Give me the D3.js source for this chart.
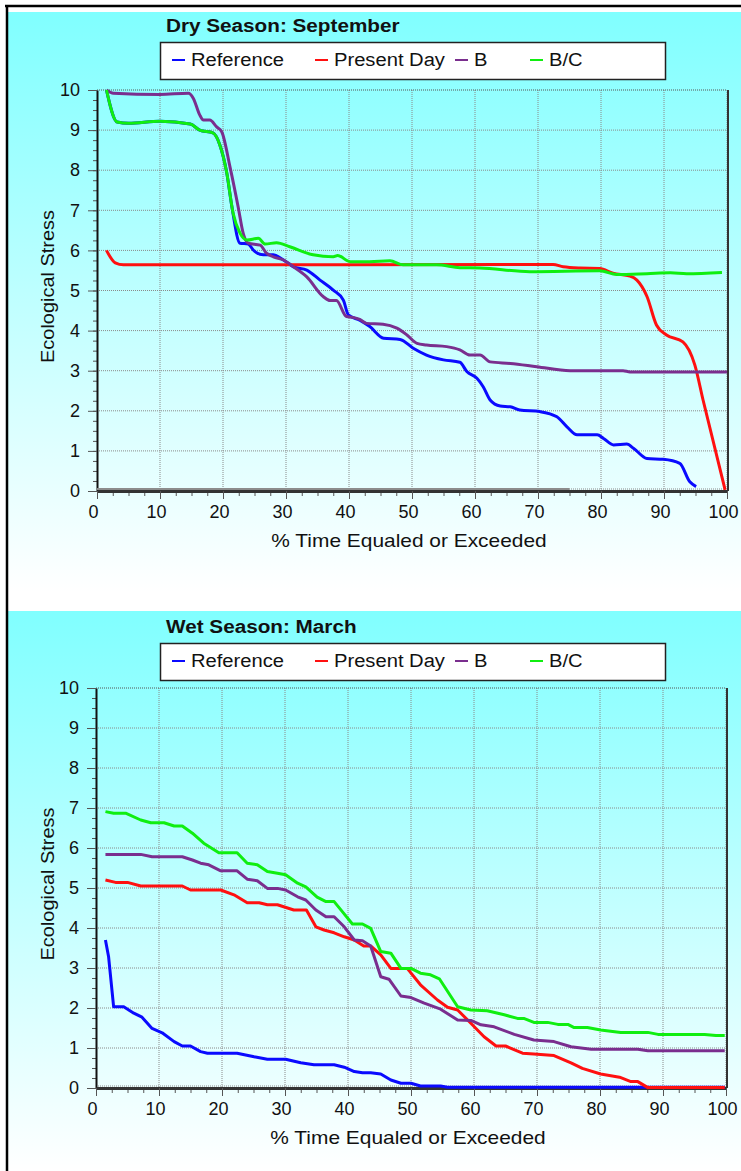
<!DOCTYPE html>
<html>
<head>
<meta charset="utf-8">
<script src="https://d3js.org/d3.v7.min.js"></script>
<style>
  body { margin: 0; background: #fff; }
  text { font-family: "Liberation Sans", Arial, sans-serif; fill: #111; }
</style>
</head>
<body>
<div id="my_dataviz"></div>
<script>

// series names and colours
var keys = ["Reference", "Present Day", "B", "B/C"];
var colors = ["#0a0aff", "#ff1010", "#7a2e8e", "#10ee10"];

// tick values
var xTicks = [0, 10, 20, 30, 40, 50, 60, 70, 80, 90, 100];
var yTicks = [0, 1, 2, 3, 4, 5, 6, 7, 8, 9, 10];

// Dry season (September) : [% time, stress]
var dryReference = [[1.5,10],[3.2,9.2],[5,9.17],[10,9.22],[14.8,9.15],[16.3,9.0],[18.4,8.93],[19.5,8.63],[20.6,7.93],[21.4,7.1],[22.7,6.18],[24,6.16],[24.8,6.01],[26.4,5.89],[28,5.89],[29.6,5.76],[31.2,5.59],[33.3,5.51],[35.4,5.26],[37.5,5.01],[39.1,4.76],[39.9,4.39],[41.7,4.26],[43.3,4.1],[45.5,3.81],[48.1,3.78],[50.2,3.56],[52.3,3.39],[55,3.27],[57.6,3.21],[58.7,2.98],[60.3,2.81],[61.3,2.6],[62.4,2.27],[64,2.12],[65.6,2.1],[67.1,2.02],[70.3,1.98],[73,1.85],[74.6,1.6],[76.2,1.4],[79.4,1.4],[80.4,1.31],[82,1.15],[84.1,1.17],[85.2,1.06],[87.3,0.81],[89.9,0.79],[92.5,0.69],[94.1,0.23],[95.1,0.11]];
var dryPresent = [[1.5,6.0],[2.9,5.69],[4.2,5.64],[72.4,5.65],[74,5.59],[76.7,5.56],[79.8,5.55],[81.9,5.43],[84.6,5.36],[85.7,5.26],[87.3,4.85],[88.8,4.14],[90.4,3.89],[93,3.72],[94.9,3.14],[96.2,2.27],[99.7,0.03]];
var dryB = [[1.5,10],[2.6,9.92],[10,9.89],[14.5,9.92],[15.3,9.79],[16.3,9.38],[16.9,9.25],[17.9,9.25],[19,9.08],[19.8,8.96],[21.1,8.09],[22.4,7.09],[23.2,6.43],[24,6.18],[25.9,6.13],[26.9,5.93],[28,5.84],[29.6,5.76],[31.2,5.59],[33.3,5.34],[35.9,4.85],[37,4.75],[38,4.75],[39.6,4.35],[40.6,4.33],[41.7,4.28],[42.8,4.18],[45.4,4.16],[47.6,4.06],[49.2,3.89],[50.8,3.68],[52.3,3.64],[55.5,3.6],[57.6,3.52],[59.2,3.39],[60.8,3.39],[62.4,3.22],[65.6,3.18],[69.8,3.1],[75.1,3.0],[83.5,3.0],[84.6,2.97],[100,2.97]];
var dryBC = [[1.5,10],[3.2,9.2],[5,9.17],[10,9.22],[14.8,9.15],[16.3,9.0],[18.4,8.93],[19.5,8.63],[20.6,7.93],[21.6,6.93],[22.7,6.43],[23.8,6.26],[25.6,6.3],[26.7,6.16],[28.5,6.19],[30.6,6.09],[34.3,5.89],[37.5,5.84],[38.2,5.87],[40.2,5.72],[43.3,5.72],[46.5,5.74],[48.6,5.64],[53.9,5.64],[57.6,5.57],[60.8,5.56],[68.7,5.47],[79.8,5.49],[82.5,5.4],[87.3,5.42],[91,5.44],[93.6,5.42],[99.2,5.45]];
var dryBase = [[0,0],[75,0]];

// Wet season (March)
var wetReference = [[1.5,3.7],[2,3.28],[2.8,2.03],[4.4,2.03],[6,1.87],[7.3,1.77],[8.9,1.49],[10.5,1.38],[12.4,1.16],[13.7,1.05],[15,1.05],[16.6,0.91],[17.7,0.87],[22.4,0.87],[25.1,0.78],[27.2,0.72],[30.1,0.72],[32.5,0.63],[34.6,0.58],[37.8,0.58],[39.4,0.52],[41,0.41],[42.3,0.38],[43.6,0.38],[45.2,0.35],[46.8,0.2],[48.4,0.12],[50,0.12],[51.5,0.05],[54.7,0.05],[55.8,0.02],[99.8,0.02]];
var wetPresent = [[1.5,5.2],[3.1,5.14],[5,5.14],[7.1,5.05],[13.7,5.05],[15,4.95],[19.8,4.95],[21.9,4.83],[24,4.63],[25.9,4.63],[27.2,4.58],[28.8,4.58],[31.4,4.45],[33.4,4.45],[34.9,4.03],[36.2,3.95],[37.8,3.88],[39.4,3.78],[41,3.7],[42.5,3.55],[43.6,3.55],[45.2,3.33],[46.8,2.99],[49.4,2.99],[51.5,2.58],[54.2,2.2],[55.8,2.02],[57.4,1.95],[59.5,1.62],[61.6,1.28],[63.5,1.05],[65,1.05],[67.7,0.87],[69.5,0.85],[72.7,0.81],[75.4,0.63],[77.2,0.49],[80.1,0.35],[83.1,0.27],[84.9,0.16],[86,0.16],[87.6,0.01],[99.8,0.01]];
var wetB = [[1.5,5.84],[7.1,5.84],[8.9,5.78],[13.7,5.78],[15.3,5.7],[16.6,5.62],[17.9,5.58],[19.8,5.43],[22.4,5.43],[24,5.22],[25.6,5.18],[27.2,4.99],[28.8,4.99],[30.1,4.95],[32,4.78],[33.3,4.7],[34.9,4.45],[36.5,4.28],[37.8,4.28],[39.4,4.03],[41,3.7],[42.3,3.68],[43.6,3.55],[45.2,2.78],[46.5,2.72],[48.4,2.3],[50,2.26],[52.1,2.12],[54.7,1.97],[57.4,1.7],[59.5,1.69],[61.1,1.58],[63.2,1.53],[66.4,1.34],[69.5,1.2],[72.7,1.16],[75.4,1.03],[78.6,0.97],[86,0.97],[87.6,0.93],[99.8,0.93]];
var wetBC = [[1.5,6.91],[2.8,6.87],[4.7,6.87],[7.1,6.7],[8.7,6.63],[10.8,6.63],[12.4,6.55],[13.7,6.55],[15.3,6.37],[17.1,6.12],[19.5,5.88],[22.4,5.88],[24,5.62],[25.6,5.58],[27.2,5.41],[28.8,5.37],[30.1,5.33],[32,5.12],[33.3,5.03],[35.1,4.77],[36.5,4.66],[37.8,4.66],[39.1,4.41],[40.7,4.1],[42.3,4.1],[43.6,3.99],[45.2,3.41],[46.8,3.37],[48.4,2.99],[50,2.99],[51.5,2.87],[53.1,2.83],[54.5,2.73],[57.4,2.03],[59.5,1.95],[62.1,1.93],[64.8,1.83],[66.9,1.74],[67.9,1.74],[69.5,1.64],[71.7,1.64],[73.3,1.59],[74.9,1.59],[75.9,1.51],[78,1.51],[80.1,1.45],[83.3,1.39],[87.6,1.39],[89.2,1.34],[96.6,1.34],[98.4,1.31],[99.8,1.31]];

var W = 741, H = 1171;

var svg = d3.select("#my_dataviz")
  .append("svg")
    .attr("width", W)
    .attr("height", H);

// panel gradient (cyan to white)
var grad = svg.append("defs").append("linearGradient")
    .attr("id", "panelGrad")
    .attr("x1", 0).attr("y1", 0).attr("x2", 0).attr("y2", 1);
grad.append("stop").attr("offset", "0%").attr("stop-color", "#80ffff");
grad.append("stop").attr("offset", "100%").attr("stop-color", "#ffffff");

// stretch a text horizontally (the original uses a wide font)
function widen(sel, k) {
  sel.each(function() {
    var w = this.getComputedTextLength();
    d3.select(this).attr("textLength", w * k).attr("lengthAdjust", "spacingAndGlyphs");
  });
}

function drawChart(cfg) {
  var g = svg.append("g");

  // background panel
  g.append("rect")
    .attr("x", 8).attr("y", cfg.panelTop)
    .attr("width", W - 8).attr("height", cfg.panelBottom - cfg.panelTop)
    .attr("fill", "url(#panelGrad)");

  var x = d3.scaleLinear().domain([0, 100]).range([cfg.left, cfg.right]);
  var y = d3.scaleLinear().domain([0, 10]).range([cfg.bottom, cfg.top]);

  // grid
  g.selectAll("vgrid")
    .data(xTicks.slice(1))
    .enter().append("line")
      .attr("x1", function(d){ return x(d); }).attr("x2", function(d){ return x(d); })
      .attr("y1", y(10)).attr("y2", y(0))
      .attr("stroke", "#8a8a8a").attr("stroke-width", 1)
      .attr("stroke-dasharray", "1,1");
  g.selectAll("hgrid")
    .data(yTicks)
    .enter().append("line")
      .attr("x1", x(0)).attr("x2", x(100))
      .attr("y1", function(d){ return y(d) - (d === 0 ? 2 : 0); })
      .attr("y2", function(d){ return y(d) - (d === 0 ? 2 : 0); })
      .attr("stroke", function(d){ return d === 10 ? "#555" : "#8a8a8a"; })
      .attr("stroke-width", 1)
      .attr("stroke-dasharray", "1,1");

  // y axis with minor ticks
  var yMinor = d3.range(0, 10.01, 0.25);
  g.append("g")
    .attr("transform", "translate(" + cfg.left + ",0)")
    .call(d3.axisLeft(y).tickValues(yMinor).tickSize(4).tickFormat(""))
    .call(function(a){ a.select(".domain").remove(); a.selectAll("line").attr("stroke", "#555"); });
  var yAx = g.append("g")
    .attr("transform", "translate(" + cfg.left + ",0)")
    .call(d3.axisLeft(y).tickValues(yTicks).tickSize(9).tickPadding(8).tickSizeOuter(0));
  yAx.select(".domain").attr("stroke", "#111").attr("stroke-width", 2);
  yAx.selectAll("line").attr("stroke", "#555");
  yAx.selectAll("text").style("font-size", "18px").style("font-family", "Liberation Sans, Arial, sans-serif").attr("fill", "#111");

  // x axis with minor ticks
  var xMinor = d3.range(0, 100.01, 2.5);
  g.append("g")
    .attr("transform", "translate(0," + cfg.bottom + ")")
    .call(d3.axisBottom(x).tickValues(xMinor).tickSize(5).tickFormat(""))
    .call(function(a){ a.select(".domain").remove(); a.selectAll("line").attr("stroke", "#555"); });
  var xAx = g.append("g")
    .attr("transform", "translate(0," + cfg.bottom + ")")
    .call(d3.axisBottom(x).tickValues(xTicks).tickSize(8).tickPadding(6).tickSizeOuter(0));
  xAx.select(".domain").attr("stroke", "#333").attr("stroke-width", 3);
  xAx.selectAll("line").attr("stroke", "#555");
  xAx.selectAll("text").style("font-size", "18px").style("font-family", "Liberation Sans, Arial, sans-serif")
    .attr("fill", "#111").attr("dx", "-4");

  // right frame
  g.append("line")
    .attr("x1", x(100) + 1).attr("x2", x(100) + 1)
    .attr("y1", y(10)).attr("y2", y(0))
    .attr("stroke", "#333").attr("stroke-width", 2);

  // optional grey baseline
  if (cfg.base) {
    g.append("path")
      .datum(cfg.base)
      .attr("fill", "none")
      .attr("stroke", "#8c8c8c")
      .attr("stroke-width", 2)
      .attr("d", d3.line().x(function(d){ return x(d[0]); }).y(function(d){ return y(d[1]) - 2; }));
  }

  // lines
  var line = d3.line()
    .curve(cfg.curve)
    .x(function(d){ return x(d[0]); })
    .y(function(d){ return y(d[1]); });
  g.selectAll("series")
    .data(cfg.series)
    .enter().append("path")
      .attr("fill", "none")
      .attr("stroke", function(d, i){ return colors[i]; })
      .attr("stroke-width", 3)
      .attr("stroke-linejoin", "round")
      .attr("d", line);

  // title
  g.append("text")
    .attr("x", 166).attr("y", cfg.titleY)
    .style("font-size", "18px").style("font-weight", "bold")
    .text(cfg.title)
    .call(widen, 1.15);

  // legend
  var ly = cfg.legendY;
  g.append("rect")
    .attr("x", 160.5).attr("y", ly + 0.5)
    .attr("width", 505).attr("height", 37)
    .attr("fill", "#fff").attr("stroke", "#222").attr("stroke-width", 1.5);
  var lx = [172, 315, 455, 530];
  g.selectAll("legline")
    .data(keys)
    .enter().append("line")
      .attr("x1", function(d, i){ return lx[i]; })
      .attr("x2", function(d, i){ return lx[i] + 13; })
      .attr("y1", ly + 18).attr("y2", ly + 18)
      .attr("stroke", function(d, i){ return colors[i]; })
      .attr("stroke-width", 2);
  g.selectAll("leglabel")
    .data(keys)
    .enter().append("text")
      .attr("x", function(d, i){ return lx[i] + 19; })
      .attr("y", ly + 24)
      .style("font-size", "18px")
      .text(function(d){ return d; })
      .call(widen, 1.12);

  // axis labels
  g.append("text")
    .attr("text-anchor", "middle")
    .attr("x", (cfg.left + cfg.right) / 2 - 3)
    .attr("y", cfg.bottom + 56)
    .style("font-size", "19px")
    .text("% Time Equaled or Exceeded")
    .call(widen, 1.1);
  g.append("text")
    .attr("text-anchor", "middle")
    .attr("transform", "translate(54," + ((cfg.top + cfg.bottom) / 2 - 4) + ") rotate(-90)")
    .style("font-size", "19px")
    .text("Ecological Stress")
    .call(widen, 1.05);
}

drawChart({
  panelTop: 12, panelBottom: 592,
  left: 97, right: 727, top: 90, bottom: 491,
  titleY: 32, legendY: 42,
  title: "Dry Season: September",
  series: [dryReference, dryPresent, dryB, dryBC],
  base: dryBase,
  curve: d3.curveMonotoneX
});

drawChart({
  panelTop: 611, panelBottom: 1171,
  left: 96, right: 726, top: 688, bottom: 1088,
  titleY: 633, legendY: 643,
  title: "Wet Season: March",
  series: [wetReference, wetPresent, wetB, wetBC],
  base: null,
  curve: d3.curveLinear
});

// outer frame (top and left edges)
svg.append("line")
  .attr("x1", 5).attr("x2", W).attr("y1", 6).attr("y2", 6)
  .attr("stroke", "#000").attr("stroke-width", 2.5);
svg.append("line")
  .attr("x1", 7).attr("x2", 7).attr("y1", 5).attr("y2", H)
  .attr("stroke", "#000").attr("stroke-width", 2.5);

</script>
</body>
</html>
